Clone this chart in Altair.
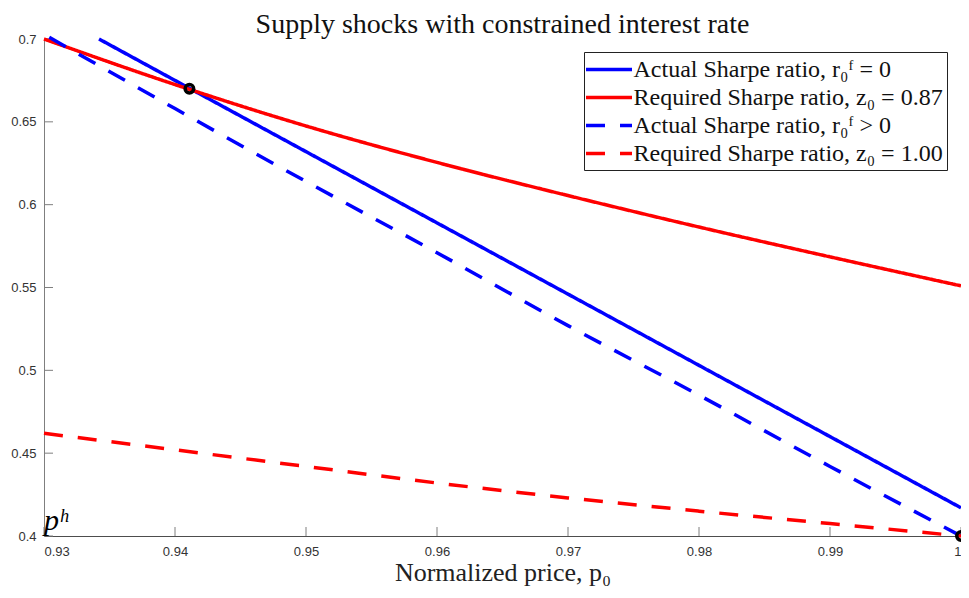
import altair as alt
import pandas as pd

# ---- data ----
series_names = [
    "Actual Sharpe ratio, r₀ᶠ = 0",
    "Required Sharpe ratio, z₀ = 0.87",
    "Actual Sharpe ratio, r₀ᶠ > 0",
    "Required Sharpe ratio, z₀ = 1.00",
]
x_blue_solid = [0.9342, 0.94, 0.95, 0.96, 0.97, 0.98, 0.99, 1.00]
y_blue_solid = [0.700, 0.675, 0.632, 0.589, 0.546, 0.503, 0.460, 0.417]
x_red_solid = [0.93, 0.94, 0.95, 0.96, 0.97, 0.98, 0.99, 1.00]
y_red_solid = [0.700, 0.6725, 0.6475, 0.6255, 0.6055, 0.5865, 0.5685, 0.551]
x_blue_dash = [0.9304, 0.94, 0.95, 0.96, 0.97, 0.98, 0.99, 1.00]
y_blue_dash = [0.701, 0.658, 0.614, 0.571, 0.527, 0.485, 0.442, 0.400]
x_red_dash = [0.93, 0.94, 0.95, 0.96, 0.97, 0.98, 0.99, 1.00]
y_red_dash = [0.462, 0.452, 0.442, 0.432, 0.423, 0.415, 0.4075, 0.400]

eq_x = [0.9411, 1.00]
eq_y = [0.670, 0.400]

x_ticks = [0.93, 0.94, 0.95, 0.96, 0.97, 0.98, 0.99, 1.00]
y_ticks = [0.40, 0.45, 0.50, 0.55, 0.60, 0.65, 0.70]
ph_label = "pʰ"

W, H = 917, 497

rows = []
for name, xs, ys in [
    (series_names[0], x_blue_solid, y_blue_solid),
    (series_names[1], x_red_solid, y_red_solid),
    (series_names[2], x_blue_dash, y_blue_dash),
    (series_names[3], x_red_dash, y_red_dash),
]:
    for i, (a, b) in enumerate(zip(xs, ys)):
        rows.append({"series": name, "x": a, "y": b, "i": i})
lines_df = pd.DataFrame(rows)
pts_df = pd.DataFrame({"x": eq_x, "y": eq_y})
xt_df = pd.DataFrame({"x": x_ticks})
yt_df = pd.DataFrame({"y": y_ticks})
ph_df = pd.DataFrame({"x": [0.93], "y": [0.40], "t": [ph_label]})

xscale = alt.Scale(domain=[0.93, 1.0], nice=False, zero=False)
yscale = alt.Scale(domain=[0.4, 0.7], nice=False, zero=False)

lab_font = "Liberation Sans"
serif = "Liberation Serif"
xaxis = alt.Axis(values=x_ticks, format="~g", tickSize=0, grid=False,
                 domainColor="#4d4d4d", labelFont=lab_font, labelFontSize=13,
                 labelColor="#333333", labelPadding=9,
                 title="Normalized price, p₀", titleFont=serif,
                 titleFontSize=26, titleFontWeight="normal", titleColor="#222222",
                 titlePadding=1)
yaxis = alt.Axis(values=y_ticks, format="~g", tickSize=0, grid=False,
                 domainColor="#7f7f7f", labelFont=lab_font, labelFontSize=13,
                 labelColor="#333333", labelPadding=8, title=None)

# legend line symbol: a horizontal stroke twice the symbol's nominal width
legend_symbol = "M-2,0H2"

lines = alt.Chart(lines_df).mark_line(strokeWidth=3.5, clip=False,
                                      interpolate="monotone").encode(
    x=alt.X("x:Q", scale=xscale, axis=xaxis),
    y=alt.Y("y:Q", scale=yscale, axis=yaxis),
    order="i:Q",
    color=alt.Color("series:N", sort=series_names,
                    scale=alt.Scale(domain=series_names,
                                    range=["#0000ff", "#ff0000", "#0000ff", "#ff0000"]),
                    legend=alt.Legend(title=None, orient="none", legendX=540, legendY=13,
                                      symbolType=legend_symbol, symbolSize=529,
                                      symbolOffset=7.5,
                                      symbolStrokeWidth=3.5, labelFont=serif,
                                      labelFontSize=24, labelColor="#111111",
                                      labelLimit=0, labelOffset=11, rowPadding=2,
                                      padding=4, strokeColor="#222222",
                                      fillColor="white")),
    strokeDash=alt.StrokeDash("series:N", sort=series_names,
                              scale=alt.Scale(domain=series_names,
                                              range=[[1, 0], [1, 0], [19, 15], [19, 15]]),
                              legend=None),
)

points = alt.Chart(pts_df).mark_point(shape="circle", size=72, filled=False,
                                      stroke="black", strokeWidth=3.5,
                                      opacity=1, clip=False).encode(
    x=alt.X("x:Q", scale=xscale), y=alt.Y("y:Q", scale=yscale))

xt = alt.Chart(xt_df).mark_rule(color="#7f7f7f", strokeWidth=1).encode(
    x=alt.X("x:Q", scale=xscale), y=alt.value(H), y2=alt.value(H - 9))
yt = alt.Chart(yt_df).mark_rule(color="#7f7f7f", strokeWidth=1).encode(
    y=alt.Y("y:Q", scale=yscale), x=alt.value(0), x2=alt.value(9))

ph = alt.Chart(ph_df).mark_text(font=serif, fontSize=30, fontStyle="italic",
                                align="left", baseline="alphabetic", dx=0, dy=-6,
                                color="black").encode(
    x=alt.X("x:Q", scale=xscale), y=alt.Y("y:Q", scale=yscale), text="t:N")

chart = alt.layer(xt, yt, lines, points, ph).properties(
    width=W, height=H,
    title=alt.TitleParams("Supply shocks with constrained interest rate",
                          font=serif, fontSize=28, fontWeight="normal",
                          color="#111111", offset=0, dy=9),
    autosize=alt.AutoSizeParams(type="none"),
    padding={"left": 36, "top": 31, "right": 0, "bottom": 50},
).configure(background="white").configure_view(stroke=None)

chart.save("out.html", embed_options={"renderer": "svg", "actions": False})
